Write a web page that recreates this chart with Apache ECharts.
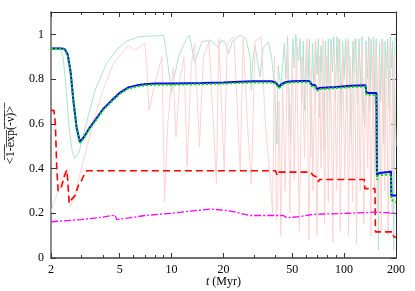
<!DOCTYPE html>
<html><head><meta charset="utf-8">
<script src="https://cdn.jsdelivr.net/npm/echarts@6/dist/echarts.min.js"></script>
<style>html,body{margin:0;padding:0;background:#fff}#c{width:415px;height:291px}</style>
</head><body><div id="c"></div>
<script>
const xMajorTicks = [2, 5, 10, 20, 50, 100, 200];
const xMinorTicks = [3, 4, 6, 7, 8, 9, 30, 40, 60, 70, 80, 90];
const yTicks = [0, 0.2, 0.4, 0.6, 0.8, 1];

const blue = [[2,0.937],[2.3,0.937],[2.4,0.935],[2.5,0.91],[2.6,0.83],[2.7,0.7],[2.82,0.58],[2.94,0.52],[3.1,0.54],[3.3,0.575],[3.6,0.616],[4.0,0.665],[4.5,0.705],[5.0,0.738],[5.6,0.762],[6.3,0.772],[7,0.777],[8,0.78],[10,0.78],[15,0.782],[20,0.785],[25,0.788],[30,0.79],[38,0.79],[40,0.785],[42,0.765],[43,0.775],[46,0.787],[50,0.79],[60,0.792],[63,0.79],[65,0.775],[68,0.772],[70,0.755],[72,0.76],[90,0.765],[110,0.77],[133,0.772],[135,0.738],[154,0.738],[155,0.37],[160,0.38],[180,0.385],[187,0.387],[188,0.28],[200,0.28]];
const green = [[2,0.935],[2.3,0.935],[2.4,0.932],[2.5,0.905],[2.6,0.825],[2.7,0.695],[2.82,0.575],[2.94,0.515],[3.1,0.535],[3.3,0.57],[3.6,0.61],[4.0,0.66],[4.5,0.7],[5.0,0.733],[5.6,0.757],[6.3,0.767],[7,0.772],[8,0.775],[10,0.775],[15,0.777],[20,0.78],[25,0.783],[30,0.785],[38,0.785],[40,0.78],[42,0.758],[43,0.77],[46,0.782],[50,0.785],[60,0.787],[63,0.785],[65,0.768],[68,0.765],[70,0.748],[72,0.755],[90,0.76],[110,0.765],[133,0.767],[135,0.73],[154,0.73],[155,0.35],[158,0.37],[187,0.375],[188,0.26],[200,0.25]];
const red = [[2,0.66],[2.08,0.66],[2.12,0.6],[2.16,0.4],[2.2,0.3],[2.3,0.32],[2.4,0.37],[2.47,0.393],[2.5,0.35],[2.55,0.245],[2.62,0.26],[2.76,0.28],[2.9,0.33],[3.0,0.345],[3.1,0.37],[3.22,0.39],[40,0.39],[40.5,0.395],[41,0.37],[41.5,0.384],[64,0.384],[65,0.39],[66,0.37],[70,0.36],[71,0.34],[72,0.351],[131,0.351],[132,0.31],[151,0.31],[152,0.117],[192,0.117],[194,0.095],[200,0.092]];
const magenta = [[2,0.162],[3,0.172],[4,0.183],[4.7,0.192],[4.8,0.172],[5.5,0.178],[7,0.19],[10,0.2],[13,0.21],[16.8,0.219],[20,0.214],[22,0.21],[25,0.2],[28.5,0.19],[40,0.19],[44.5,0.19],[46.5,0.18],[55,0.185],[66,0.195],[104,0.2],[155,0.205],[200,0.2]];
const teal = [[2,0.94],[2.25,0.94],[2.35,0.9],[2.45,0.75],[2.55,0.58],[2.65,0.48],[2.75,0.445],[2.9,0.47],[3.2,0.6],[3.6,0.75],[4.2,0.87],[4.8,0.93],[5.5,0.97],[6.5,0.99],[9.0,0.995],[9.4,0.9],[10.0,0.74],[10.3,0.8],[11,0.9],[12,0.97],[12.7,0.996],[13.6,0.876],[15,0.966],[16.7,0.975],[18.6,0.943],[19.5,0.975],[20.5,0.96],[21.4,0.914],[22.5,0.97],[25,0.996],[27,0.98],[28.5,0.9],[29,0.75],[29.5,0.88],[30.5,0.95],[32.5,0.81],[34,0.94],[36.3,0.966],[38,0.9],[39.8,0.735],[40.8,0.51],[41.5,0.86],[43,0.76],[45,0.96],[46,0.8],[47,0.99],[48.9,0.51],[50.5,0.98],[51.5,0.85],[52.5,1.0],[54.4,0.88],[55.5,0.98],[56.8,0.7],[58,0.97],[59,0.66],[60.5,0.97],[61.8,0.8],[63,0.98],[64,0.45],[65.5,0.96],[67,0.75],[68.5,0.97],[69.8,0.82],[71,0.98],[72,0.63],[73.5,0.95],[75,0.78],[76.4,0.48],[77.8,0.97],[79.5,0.7],[81,0.98],[82.3,0.61],[84,0.98],[85.5,0.83],[87.2,0.99],[89,0.7],[90.8,0.99],[92.5,0.78],[94.3,0.98],[96.3,0.586],[98,0.97],[100,0.8],[102,0.98],[104,0.66],[106,0.98],[108,0.75],[110.2,0.512],[112.5,0.97],[114.5,0.82],[117,0.98],[119.5,0.69],[122,0.98],[124.5,0.77],[127,0.99],[129.5,0.68],[131.7,0.586],[134,0.97],[136.5,0.8],[139,0.99],[141,0.66],[143.5,0.98],[146,0.75],[148.5,0.99],[151,0.69],[153.5,0.98],[155.5,0.8],[158.4,0.036],[160.5,0.96],[163,0.7],[166,0.98],[169.9,0.512],[173,0.97],[176,0.8],[179,0.98],[182.4,0.66],[185.5,0.99],[188,0.85],[191,0.97],[193.9,0.036],[197,0.98],[200,0.99]];
const pink = [[2,0.207],[2.2,0.3],[2.35,0.37],[2.47,0.4],[2.52,0.3],[2.58,0.23],[2.7,0.26],[3.0,0.4],[3.5,0.6],[4.0,0.75],[4.6,0.87],[5.6,0.95],[6.1,0.93],[7.0,0.96],[7.2,0.85],[7.4,0.66],[8.0,0.78],[8.8,0.9],[9.1,0.25],[9.5,0.6],[10.2,0.85],[10.6,0.54],[11.2,0.8],[11.8,0.9],[12.3,0.41],[13,0.86],[13.6,0.96],[14.5,0.497],[15.3,0.9],[16.5,0.97],[18.2,0.333],[18.8,0.98],[20.2,0.39],[21,0.96],[23,0.99],[25,0.39],[26,0.98],[27.5,0.6],[29,0.33],[30.5,0.97],[33,0.99],[35,0.6],[37.5,0.33],[38.5,0.2],[39.5,0.9],[40.5,0.17],[41.3,0.3],[42,0.7],[43,0.1],[44,0.8],[45.5,0.3],[47,0.95],[48.5,0.2],[50,0.9],[51.5,0.35],[53,0.97],[55,0.12],[57,0.9],[59,0.45],[61,0.98],[62.5,0.08],[64.5,0.85],[66,0.3],[68,0.97],[69.5,0.1],[72,0.9],[73.5,0.4],[75.5,0.98],[77,0.15],[79.5,0.9],[81,0.25],[83.5,0.95],[86,0.07],[88,0.9],[90.5,0.3],[93,0.98],[95,0.12],[98,0.92],[101,0.35],[104,0.97],[106,0.1],[109,0.9],[112,0.25],[115,0.98],[118,0.06],[121,0.9],[124,0.3],[127,0.96],[130,0.15],[134,0.92],[137,0.4],[140,0.98],[143,0.1],[147,0.9],[150,0.3],[153,0.95],[156,0.2],[160,0.9],[164,0.12],[168,0.97],[172,0.3],[176,0.92],[180,0.1],[185,0.95],[190,0.2],[195,0.9],[200,0.5]];

const FONT = "'Liberation Serif', 'Times New Roman', serif";
const lg = v => Math.log10(v);
const xMin = lg(2), xMax = lg(200);
function auxX(pos, vals, len, labels, extra) {
  return Object.assign({
    type: 'value', gridIndex: 0, position: pos, min: xMin, max: xMax,
    axisLine: { show: true, onZero: false, lineStyle: { color: pos === 'bottom' ? '#666' : '#222', width: pos === 'bottom' ? 1.5 : 1 } },
    axisTick: { show: true, inside: true, length: len, customValues: vals.map(lg), lineStyle: { color: '#333' } },
    axisLabel: labels ? { show: true, customValues: vals.map(lg), formatter: v => String(Math.round(Math.pow(10, v))), fontFamily: FONT, fontSize: 12, color: '#000', margin: 6 } : { show: false },
    splitLine: { show: false }
  }, extra || {});
}
const yLabel = '<1-exp(-ν)>'.split('').map(c => c + '\u0305').join('');

const option = {
  animation: false,
  grid: { left: 51, right: 19, top: 12, bottom: 33, containLabel: false, outerBoundsMode: 'none' },
  xAxis: [
    { type: 'log', logBase: 10, min: 2, max: 200, show: false },
    auxX('bottom', xMajorTicks, 5, true, {
      name: '{i|t} (Myr)', nameLocation: 'middle', nameGap: 18, nameMoveOverlap: false,
      nameTextStyle: { fontFamily: FONT, fontSize: 12, color: '#000', verticalAlign: 'top', rich: { i: { fontStyle: 'italic', fontFamily: FONT, fontSize: 12 } } }
    }),
    auxX('bottom', xMinorTicks, 3, false),
    auxX('top', xMajorTicks, 5, false),
    auxX('top', xMinorTicks, 3, false)
  ],
  yAxis: [
    { type: 'value', min: 0, max: 1.1, position: 'left',
      axisLine: { show: true, lineStyle: { color: '#666', width: 1.5 } },
      axisTick: { show: true, inside: true, length: 5, customValues: yTicks, lineStyle: { color: '#333' } },
      axisLabel: { customValues: yTicks, fontFamily: FONT, fontSize: 12, color: '#000', margin: 7, formatter: v => String(v) },
      splitLine: { show: false },
      name: yLabel, nameLocation: 'middle', nameGap: 34, nameRotate: 90, nameMoveOverlap: false,
      nameTextStyle: { fontFamily: FONT, fontSize: 12, color: '#000' } },
    { type: 'value', min: 0, max: 1.1, position: 'right',
      axisLine: { show: true, lineStyle: { color: '#222', width: 1 } },
      axisTick: { show: true, inside: true, length: 5, customValues: yTicks, lineStyle: { color: '#333' } },
      axisLabel: { show: false }, splitLine: { show: false } }
  ],
  series: [
    { type: 'line', data: teal, showSymbol: false, lineStyle: { color: '#b0e0d0', width: 1 }, z: 1 },
    { type: 'line', data: pink, showSymbol: false, lineStyle: { color: '#ffd2d2', width: 1 }, z: 1 },
    { type: 'line', data: blue, showSymbol: false, lineStyle: { color: '#0000ff', width: 2 }, z: 3 },
    { type: 'line', data: green, showSymbol: false, lineStyle: { color: '#00dd00', width: 2, type: [2, 2] }, z: 4 },
    { type: 'line', data: red, showSymbol: false, lineStyle: { color: '#ff0000', width: 1.6, type: [7, 4] }, z: 3 },
    { type: 'line', data: magenta, showSymbol: false, lineStyle: { color: '#ff00ff', width: 1.3, type: [7, 2, 2, 2] }, z: 3 }
  ]
};
echarts.init(document.getElementById('c')).setOption(option);
</script></body></html>
